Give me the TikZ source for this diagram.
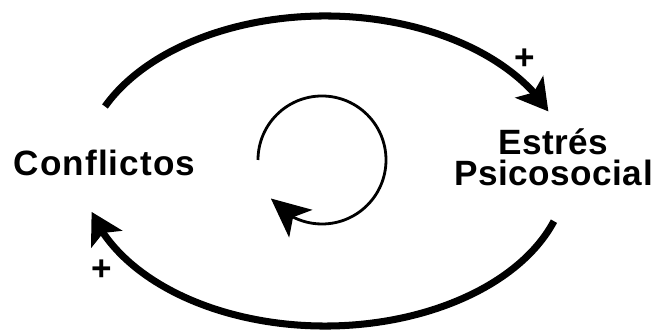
\documentclass[tikz,border=0pt]{standalone}
\usepackage{fontspec}
\setmainfont{Liberation Sans}
\usetikzlibrary{arrows.meta,bending,scopes}

\begin{document}
\begin{tikzpicture}[
    link/.style={line width=4pt,-{Stealth[length=0.62cm,width=0.7cm,inset=0.14cm,flex]}},
    spin/.style={line width=1.6pt,-{Stealth[length=0.78cm,width=0.72cm,inset=0.2cm,flex]}},
    var/.style={font=\fontsize{20}{17.5}\selectfont\bfseries,align=center,inner sep=0pt},
    sign/.style={font=\fontsize{20}{20}\selectfont\bfseries,inner sep=0pt},
]
    \useasboundingbox (0,0) rectangle (13.22,6.68);
    \node[var,anchor=base] (conf) at (2.09,3.16) {\addfontfeatures{LetterSpace=3}Conflictos};
    \node[var] (estres) at (11.07,3.54) {\addfontfeatures{LetterSpace=1.5}Estrés\\\addfontfeatures{LetterSpace=1.5}Psicosocial};
    \coordinate (c) at (6.5,3.26);
    \coordinate (o) at (6.44,3.48);
    {[link]
        \draw ([shift={(155.4:4.84cm and 3.1cm)}]c) arc[start angle=155.4,end angle=22.6,x radius=4.84cm,y radius=3.1cm];
        \draw ([shift={(-18.9:4.84cm and 3.1cm)}]c) arc[start angle=-18.9,end angle=-164.7,x radius=4.84cm,y radius=3.1cm];
    }
    \draw[spin] ([shift={(180:1.28cm)}]o) arc[start angle=180,end angle=-143,radius=1.28cm];
    \node[sign] (plustop) at (10.5,5.5) {+};
    \node[sign] (plusbot) at (2.04,1.28) {+};
\end{tikzpicture}
\end{document}
